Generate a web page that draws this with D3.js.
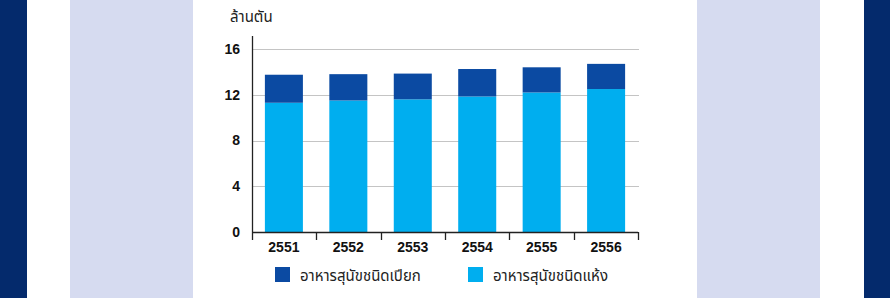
<!DOCTYPE html>
<html>
<head>
<meta charset="utf-8">
<script src="https://cdn.jsdelivr.net/npm/d3@7"></script>
<style>
  body { margin: 0; background: #fff; }
  svg { display: block; }
  .tick text { font-family: "Liberation Sans", Arial, sans-serif; font-weight: bold; font-size: 14px; fill: #111; }
  .thai { font-family: "Noto Sans Thai", "Noto Sans", "DejaVu Sans", sans-serif; font-size: 15px; fill: #222; }
</style>
</head>
<body>
<svg id="chart"></svg>
<script>
var years = ["2551", "2552", "2553", "2554", "2555", "2556"];
var dryFood = [11.3, 11.5, 11.6, 11.85, 12.2, 12.5];
var wetFood = [2.45, 2.3, 2.25, 2.4, 2.2, 2.2];
var yTicks = [0, 4, 8, 12, 16];
var legendNames = ["อาหารสุนัขชนิดเปียก", "อาหารสุนัขชนิดแห้ง"];
var unitLabel = "ล้านตัน";

var screen = {width: 890, height: 298};
var margins = {top: 49, left: 252, right: 252, bottom: 66};
var colors = {wet: "#0b4aa2", dry: "#00aeef", navy: "#042a6c", lavender: "#d6dbf0"};

var svg = d3.select("#chart")
    .attr("width", screen.width)
    .attr("height", screen.height);

// background panels
svg.append("rect").attr("x", 0).attr("y", 0).attr("width", 27).attr("height", screen.height).attr("fill", colors.navy);
svg.append("rect").attr("x", 864).attr("y", 0).attr("width", 26).attr("height", screen.height).attr("fill", colors.navy);
svg.append("rect").attr("x", 70).attr("y", 0).attr("width", 123).attr("height", screen.height).attr("fill", colors.lavender);
svg.append("rect").attr("x", 697).attr("y", 0).attr("width", 123).attr("height", screen.height).attr("fill", colors.lavender);

var width = 386;
var height = 183;

var xScale = d3.scaleBand()
    .domain(years)
    .range([0, width])
    .paddingInner(0.41)
    .paddingOuter(0.2);

var yScale = d3.scaleLinear()
    .domain([0, 16])
    .range([height, 0]);

var g = svg.append("g")
    .attr("transform", "translate(" + margins.left + "," + margins.top + ")");

// gridlines
g.append("g")
    .selectAll("line")
    .data(yTicks.filter(function(t){ return t > 0; }))
    .enter()
    .append("line")
    .attr("x1", 0)
    .attr("x2", width + 1)
    .attr("y1", function(d){ return Math.round(yScale(d)) + 0.5; })
    .attr("y2", function(d){ return Math.round(yScale(d)) + 0.5; })
    .attr("stroke", "#c4c4c4")
    .attr("stroke-width", 1.2);

// bars
var rows = years.map(function(y, i){ return {year: y, dry: dryFood[i], wet: wetFood[i]}; });

g.selectAll(".dry")
    .data(rows)
    .enter()
    .append("rect")
    .attr("class", "dry")
    .attr("x", function(d){ return xScale(d.year); })
    .attr("width", xScale.bandwidth())
    .attr("y", function(d){ return yScale(d.dry); })
    .attr("height", function(d){ return yScale(0) - yScale(d.dry); })
    .attr("fill", colors.dry);

g.selectAll(".wet")
    .data(rows)
    .enter()
    .append("rect")
    .attr("class", "wet")
    .attr("x", function(d){ return xScale(d.year); })
    .attr("width", xScale.bandwidth())
    .attr("y", function(d){ return yScale(d.dry + d.wet); })
    .attr("height", function(d){ return yScale(d.dry) - yScale(d.dry + d.wet); })
    .attr("fill", colors.wet);

// y axis
var yAxis = d3.axisLeft(yScale).tickValues(yTicks).tickSize(0).tickPadding(12);
var yG = g.append("g").call(yAxis);
yG.select(".domain").remove();
g.append("line")
    .attr("x1", 0.5).attr("x2", 0.5)
    .attr("y1", -13).attr("y2", height)
    .attr("stroke", "#222").attr("stroke-width", 1.3);

// x axis with ticks at band edges
var xAxis = d3.axisBottom(xScale).tickSize(0).tickPadding(10);
var xG = g.append("g")
    .attr("transform", "translate(0," + height + ")")
    .call(xAxis);
xG.select(".domain").remove();
g.append("line")
    .attr("x1", 0).attr("x2", width)
    .attr("y1", height + 0.5).attr("y2", height + 0.5)
    .attr("stroke", "#222").attr("stroke-width", 1.3);

var edges = d3.range(years.length + 1).map(function(i){ return i * width / years.length; });
g.selectAll(".xtick")
    .data(edges)
    .enter()
    .append("line")
    .attr("class", "xtick")
    .attr("x1", function(d){ return Math.round(d) + 0.5; })
    .attr("x2", function(d){ return Math.round(d) + 0.5; })
    .attr("y1", height)
    .attr("y2", height + 8)
    .attr("stroke", "#222")
    .attr("stroke-width", 1.3);

// unit label
svg.append("text")
    .attr("class", "thai")
    .attr("x", 230)
    .attr("y", 22)
    .text(unitLabel);

// legend
var legend = svg.append("g")
    .attr("transform", "translate(275,267)");
var lg = legend.selectAll("g")
    .data(legendNames)
    .enter()
    .append("g")
    .attr("transform", function(d, i){ return "translate(" + (i * 193) + ",0)"; });
lg.append("rect")
    .attr("width", 15)
    .attr("height", 15)
    .attr("fill", function(d, i){ return i === 0 ? colors.wet : colors.dry; });
lg.append("text")
    .attr("class", "thai")
    .attr("x", 25)
    .attr("y", 14)
    .text(function(d){ return d; });
</script>
</body>
</html>
